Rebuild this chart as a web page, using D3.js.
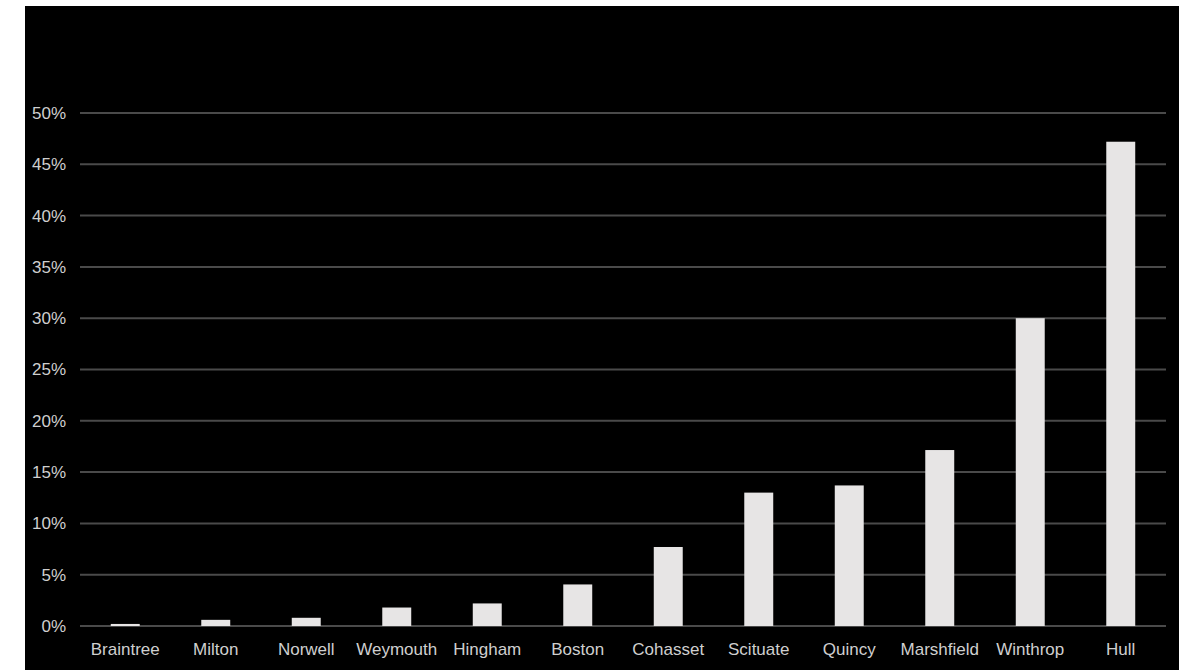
<!DOCTYPE html>
<html>
<head>
<meta charset="utf-8">
<script src="https://cdn.jsdelivr.net/npm/d3@7"></script>
<style>
  body { margin: 0; background: #fff; }
  text { font-family: "Liberation Sans", Arial, sans-serif; }
</style>
</head>
<body>
<div id="chart"></div>
<script>
// Share of homes by town
let towns = ["Braintree", "Milton", "Norwell", "Weymouth", "Hingham", "Boston",
  "Cohasset", "Scituate", "Quincy", "Marshfield", "Winthrop", "Hull"]
let shares = [0.002, 0.006, 0.008, 0.018, 0.022, 0.0405,
  0.077, 0.130, 0.137, 0.1715, 0.300, 0.472]
let yTicks = [0, 0.05, 0.10, 0.15, 0.20, 0.25, 0.30, 0.35, 0.40, 0.45, 0.50]

let width = 1193
let height = 670

let svg = d3.select("#chart").append("svg")
    .attr("width", width)
    .attr("height", height)

// black panel
svg.append("rect")
    .attr("x", 25).attr("y", 6)
    .attr("width", 1154).attr("height", 664)
    .attr("fill", "#000")

let x = d3.scaleBand()
    .domain(towns)
    .range([80, 1166])
    .paddingInner(0.68)
    .paddingOuter(0.34)

let y = d3.scaleLinear()
    .domain([0, 0.5])
    .range([626, 113])

// gridlines + y labels
let grid = svg.append("g")
grid.selectAll("line")
    .data(yTicks)
    .enter().append("line")
    .attr("x1", 80).attr("x2", 1166)
    .attr("y1", (d) => y(d)).attr("y2", (d) => y(d))
    .attr("stroke", "#4a4a4a")
    .attr("stroke-width", 2)

let fmt = d3.format(".0%")
grid.selectAll("text")
    .data(yTicks)
    .enter().append("text")
    .attr("x", 66)
    .attr("y", (d) => y(d))
    .attr("dy", "0.35em")
    .attr("text-anchor", "end")
    .attr("fill", "#cfcfcf")
    .style("font-size", "17px")
    .text((d) => fmt(d))

// bars
svg.append("g").selectAll("rect")
    .data(towns)
    .enter().append("rect")
    .attr("x", (d) => x(d))
    .attr("width", x.bandwidth())
    .attr("y", (d, i) => y(shares[i]))
    .attr("height", (d, i) => y(0) - y(shares[i]))
    .attr("fill", "#e7e5e5")

// x labels
svg.append("g").selectAll("text")
    .data(towns)
    .enter().append("text")
    .attr("x", (d) => x(d) + x.bandwidth() / 2)
    .attr("y", 655)
    .attr("text-anchor", "middle")
    .attr("fill", "#cfcfcf")
    .style("font-size", "17px")
    .text((d) => d)
</script>
</body>
</html>
